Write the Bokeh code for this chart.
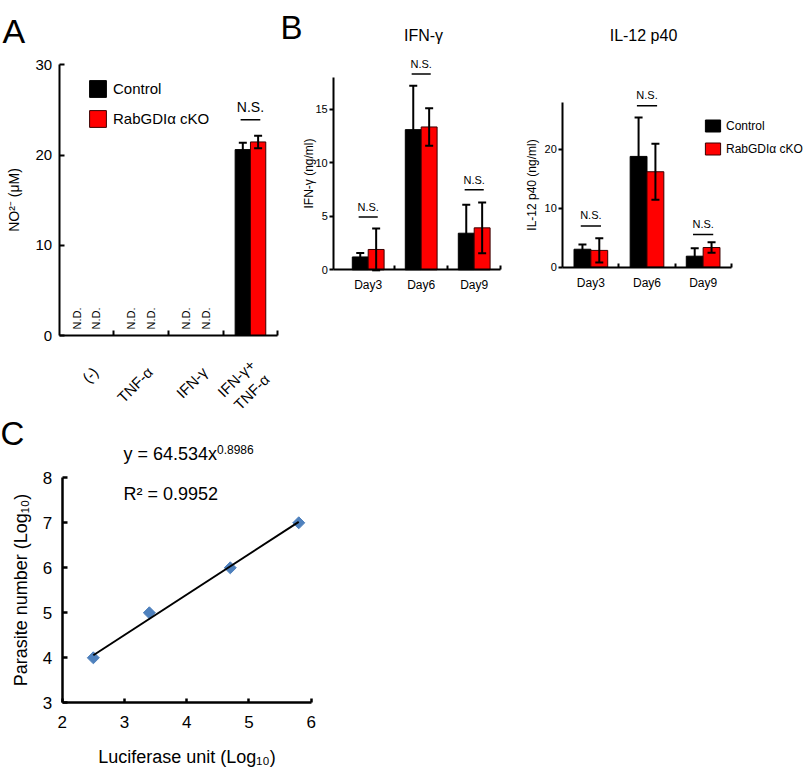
import math
import numpy as np
from bokeh.plotting import figure
from bokeh.models import (ColumnDataSource, Range1d, FixedTicker, Whisker, TeeHead,
                          Label, Legend, LegendItem, LinearAxis)
from bokeh.embed import file_html
from bokeh.resources import INLINE
from bokeh.core.properties import value

FONT = "Liberation Sans"
RED = "#ff0000"
RED_EDGE = "#3a0000"
BLUE = "#4f81bd"
nan = float("nan")

# ---------------- data ----------------
# Panel A: NO2- production
treatments = ["(-)", "TNF-α", "IFN-γ", "IFN-γ+\nTNF-α"]
no2_control = [nan, nan, nan, 20.6]
no2_control_err = [nan, nan, nan, 0.75]
no2_cko = [nan, nan, nan, 21.45]
no2_cko_err = [nan, nan, nan, 0.7]
no2_ns_y = [None, None, None, 23.9]

# Panel B: cytokines
days = ["Day3", "Day6", "Day9"]
ifn_control = [1.2, 13.1, 3.42]
ifn_control_err = [0.37, 4.1, 2.65]
ifn_cko = [1.9, 13.35, 3.92]
ifn_cko_err = [1.95, 1.75, 2.37]
ifn_ns_y = [4.93, 18.3, 7.48]

il12_control = [3.05, 18.8, 1.87]
il12_control_err = [0.8, 6.6, 1.35]
il12_cko = [2.85, 16.2, 3.34]
il12_cko_err = [2.05, 4.75, 0.9]
il12_ns_y = [7.0, 27.4, 5.54]

# Panel C: standard curve
luciferase_log = [2.5, 3.4, 4.7, 5.8]
parasite_log = [4, 5, 6, 7]
fit_coef = 64.534
fit_exp = 0.8986
fit_r2 = 0.9952

series_names = ["Control", "RabGDIα cKO"]

# ---------------- canvas (page pixels) ----------------
W, H = 805, 770
PX0, PX1, PY0, PY1 = 0, W, 0, H


def lin_range(p0, v0, p1, v1, c0, c1):
    k = (v1 - v0) / (p1 - p0)
    return Range1d(start=v0 + (c0 - p0) * k, end=v0 + (c1 - p0) * k)


p = figure(width=W, height=H, title=None, x_axis_type=None, y_axis_type=None,
           x_range=Range1d(PX0, PX1), y_range=Range1d(PY1, PY0),
           output_backend="svg", toolbar_location=None,
           min_border_left=0, min_border_right=0, min_border_top=0, min_border_bottom=0)
p.outline_line_color = None
p.background_fill_color = "white"
p.border_fill_color = "white"

# panel scales (pixel anchors of each panel's frame)
p.extra_x_ranges = {
    "ax": lin_range(58.6, 0.5, 277.3, 4.5, PX0, PX1),
    "b1x": lin_range(367.7, 1, 500.2, 3.5, PX0, PX1),
    "b2x": lin_range(562.3, 0.5, 730.7, 3.5, PX0, PX1),
    "cx": lin_range(61.7, 2, 310.7, 6, PX0, PX1),
}
p.extra_y_ranges = {
    "ay": lin_range(335, 0, 64.3, 30, PY1, PY0),
    "b1y": lin_range(269.3, 0, 76.7, 18, PY1, PY0),
    "b2y": lin_range(266.7, 0, 101.7, 28, PY1, PY0),
    "cy": lin_range(702.3, 3, 477.3, 8, PY1, PY0),
}


def style_axis(ax, size, lw):
    ax.axis_line_width = lw
    ax.axis_line_color = "black"
    ax.major_tick_line_width = lw
    ax.minor_tick_line_width = lw
    ax.major_tick_line_color = "black"
    ax.minor_tick_line_color = "black"
    ax.major_label_text_font = FONT
    ax.major_label_text_font_size = size
    ax.major_label_text_color = "black"
    ax.axis_label_text_font = FONT
    ax.axis_label_text_font_style = "normal"
    ax.axis_label_text_color = "black"


def draw_bars(xr, yr, ctrl, ctrl_err, cko, cko_err, bw, cap, lw):
    n = len(ctrl)
    xs = np.arange(1, n + 1, dtype=float)
    rends = []
    for vals, errs, off, fill, edge in ((ctrl, ctrl_err, -bw / 2, "black", "black"),
                                         (cko, cko_err, bw / 2, RED, RED_EDGE)):
        src = ColumnDataSource(dict(x=xs + off, top=vals))
        r = p.vbar(x="x", top="top", bottom=0, width=bw, source=src,
                   fill_color=fill, line_color=edge, line_width=1,
                   x_range_name=xr, y_range_name=yr)
        rends.append(r)
        ok = [i for i in range(n) if not math.isnan(vals[i])]
        wsrc = ColumnDataSource(dict(x=[xs[i] + off for i in ok],
                                     up=[vals[i] + errs[i] for i in ok],
                                     lo=[vals[i] - errs[i] for i in ok]))
        w = Whisker(source=wsrc, base="x", upper="up", lower="lo", line_width=lw,
                    line_color="black", level="overlay",
                    x_range_name=xr, y_range_name=yr,
                    upper_head=TeeHead(size=cap, line_width=lw, line_color="black"),
                    lower_head=TeeHead(size=cap, line_width=lw, line_color="black"))
        p.add_layout(w)
    return rends


def draw_ns(xr, yr, ns_y, half, lw, size, yoff):
    xs = [i + 1 for i, v in enumerate(ns_y) if v is not None]
    ys = [v for v in ns_y if v is not None]
    p.segment(x0=[x - half for x in xs], x1=[x + half for x in xs], y0=ys, y1=ys,
              line_width=lw, line_color="black", x_range_name=xr, y_range_name=yr)
    p.text(x=xs, y=ys, text=["N.S."] * len(xs), text_align="center", text_baseline="middle",
           y_offset=yoff, text_font=value(FONT), text_font_size=size, text_color="black",
           x_range_name=xr, y_range_name=yr)


def page_label(text, x, y, size, align="left", baseline="alphabetic"):
    p.add_layout(Label(x=x, y=y, text=text, text_font=FONT, text_font_size=size,
                       text_align=align, text_baseline=baseline, text_color="black"))


def bar_axes(xr, yr, x0, xcats, minor, xsize, xstandoff, yticks, ybound, ysize,
             ylabel, ylabel_size, ylabel_standoff, ytick_in, ytick_out, ystandoff,
             xminor_in, lw, axis_labels=True):
    xa = LinearAxis(x_range_name=xr, y_range_name=yr, fixed_location=0,
                    bounds=(x0, len(xcats) + 0.5))
    style_axis(xa, xsize, lw)
    major = list(range(1, len(xcats) + 1)) if axis_labels else []
    xa.ticker = FixedTicker(ticks=major, minor_ticks=minor)
    if axis_labels:
        xa.major_label_overrides = {i + 1: t for i, t in enumerate(xcats)}
    xa.major_tick_in = 0
    xa.major_tick_out = 0
    xa.minor_tick_in = xminor_in
    xa.minor_tick_out = 0
    xa.major_label_standoff = xstandoff
    p.add_layout(xa, "below")
    ya = LinearAxis(x_range_name=xr, y_range_name=yr, fixed_location=x0, bounds=(0, ybound))
    style_axis(ya, ysize, lw)
    ya.ticker = FixedTicker(ticks=yticks)
    ya.major_tick_in = ytick_in
    ya.major_tick_out = ytick_out
    ya.major_label_standoff = ystandoff
    ya.axis_label = ylabel
    ya.axis_label_text_font_size = ylabel_size
    ya.axis_label_standoff = ylabel_standoff
    p.add_layout(ya, "left")


# ---------------- Panel A ----------------
rA = draw_bars("ax", "ay", no2_control, no2_control_err, no2_cko, no2_cko_err, 0.28, 8, 2)
draw_ns("ax", "ay", no2_ns_y, 0.18, 1.5, "14px", -13)
nd_x, nd_y = [], []
for i, v in enumerate(no2_control):
    if math.isnan(v):
        nd_x += [i + 1 - 0.18, i + 1 + 0.18]
        nd_y += [0, 0]
p.text(x=nd_x, y=nd_y, text=["N.D."] * len(nd_x), angle=math.pi / 2, text_align="left",
       text_baseline="middle", y_offset=-6, text_font=value(FONT), text_font_size="11px",
       text_color="black", x_range_name="ax", y_range_name="ay")
bar_axes("ax", "ay", 0.5, treatments, [1.5, 2.5, 3.5, 4.5], "14px", 0,
         [0, 10, 20, 30], 30, "15px", "NO²⁻ (μM)", "14px", 11, 5, 0, 7, 5, 2,
         axis_labels=False)
# rotated category labels of panel A, one per treatment, under the category position
p.text(x=list(range(1, len(treatments) + 1)), y=[0] * len(treatments), text=treatments,
       angle=math.pi / 4, text_align="right", text_baseline="middle",
       x_offset=9, y_offset=34, text_font=value(FONT), text_font_size="15px",
       text_color="black", x_range_name="ax", y_range_name="ay")

legA = Legend(items=[LegendItem(label=series_names[0], renderers=[rA[0]]),
                     LegendItem(label=series_names[1], renderers=[rA[1]])],
              location=(87, H - 78 - 51), padding=0, margin=0, spacing=9,
              glyph_width=21, glyph_height=21, label_height=21, label_standoff=5,
              label_text_font=FONT, label_text_font_size="15px", label_text_color="black",
              border_line_color=None, background_fill_alpha=0)
p.add_layout(legA)
page_label("A", 2, 30, "34px")

# ---------------- Panel B (IFN-g) ----------------
draw_bars("b1x", "b1y", ifn_control, ifn_control_err, ifn_cko, ifn_cko_err, 0.3, 8, 2)
draw_ns("b1x", "b1y", ifn_ns_y, 0.18, 1.5, "11px", -10)
bar_axes("b1x", "b1y", 0.35, days, [1.5, 2.5, 3.5], "12px", 8,
         [0, 5, 10, 15], 18, "11px", "IFN-γ (ng/ml)", "12px", -4, 0, 4, 2, 4, 2)
page_label("B", 280, 27, "33px")
page_label("IFN-γ", 423, 35, "16px", align="center", baseline="middle")

# ---------------- Panel B (IL-12 p40) ----------------
rB2 = draw_bars("b2x", "b2y", il12_control, il12_control_err, il12_cko, il12_cko_err, 0.3, 8, 2)
draw_ns("b2x", "b2y", il12_ns_y, 0.18, 1.5, "11px", -11)
bar_axes("b2x", "b2y", 0.5, days, [1.5, 2.5, 3.5], "12px", 9,
         [0, 10, 20], 28, "11px", "IL-12 p40 (ng/ml)", "12px", 2, 0, 4, 2, 4, 2)
page_label("IL-12 p40", 643, 35, "16px", align="center", baseline="middle")
legB = Legend(items=[LegendItem(label=series_names[0], renderers=[rB2[0]]),
                     LegendItem(label=series_names[1], renderers=[rB2[1]])],
              location=(703, H - 118 - 38), padding=0, margin=0, spacing=8,
              glyph_width=19, glyph_height=15, label_height=15, label_standoff=4,
              label_text_font=FONT, label_text_font_size="12px", label_text_color="black",
              border_line_color=None, background_fill_alpha=0)
p.add_layout(legB)

# ---------------- Panel C ----------------
p.scatter(x=luciferase_log, y=parasite_log, marker="square", angle=math.pi / 4, size=8.5,
          fill_color=BLUE, line_color=BLUE, x_range_name="cx", y_range_name="cy")
fit_x = [min(luciferase_log), max(luciferase_log)]
fit_y = [math.log10(fit_coef) + fit_exp * x for x in fit_x]
p.line(x=fit_x, y=fit_y, line_width=2, line_color="black", x_range_name="cx", y_range_name="cy")

xc = LinearAxis(x_range_name="cx", y_range_name="cy", fixed_location=3, bounds=(2, 6))
style_axis(xc, "17px", 2.5)
xc.ticker = FixedTicker(ticks=[2, 3, 4, 5, 6])
xc.major_tick_in = 4
xc.major_tick_out = 0
xc.major_label_standoff = 13
xc.axis_label = "Luciferase unit (Log₁₀)"
xc.axis_label_text_font_size = "18px"
xc.axis_label_standoff = 16
p.add_layout(xc, "below")

yc = LinearAxis(x_range_name="cx", y_range_name="cy", fixed_location=2, bounds=(3, 8))
style_axis(yc, "17px", 2.5)
yc.ticker = FixedTicker(ticks=[3, 4, 5, 6, 7, 8])
yc.major_tick_in = 5
yc.major_tick_out = 0
yc.major_label_standoff = 10
yc.axis_label = "Parasite number (Log₁₀)"
yc.axis_label_text_font_size = "18px"
yc.axis_label_standoff = 9
p.add_layout(yc, "left")

page_label("C", 0, 433, "33px")
page_label(f"y = {fit_coef}x", 123, 453, "18px")
page_label(f"{fit_exp}", 216.5, 449, "12px")
page_label(f"R² = {fit_r2}", 123, 493, "18px")

open("out.html", "w").write(file_html(p, INLINE))
